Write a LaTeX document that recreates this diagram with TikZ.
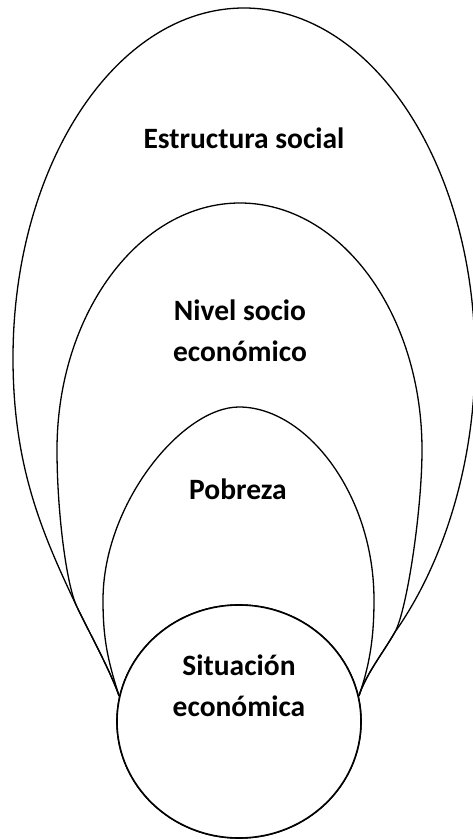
\documentclass[tikz,border=0pt]{standalone}
\usepackage{fontspec}
\setmainfont{Carlito}
\usetikzlibrary{shapes.geometric}
\tikzset{contorno/.style={draw, line width=1.3pt}}
\tikzset{circulo/.style={ellipse, draw, line width=1.6pt, fill=white, inner sep=0pt, minimum width=244pt, minimum height=233pt}}
\tikzset{rotulo/.style={anchor=base, align=center, inner sep=0pt, font=\fontsize{29.5}{41}\selectfont\bfseries}}

\begin{document}
\begin{tikzpicture}[x=1pt, y=1pt]
    \useasboundingbox (0,0) rectangle (473,839);
    \node[circulo] (sit) at (239,117.5) {};
    \coordinate (BL) at (sit.168);
    \coordinate (BR) at (sit.12);
    \coordinate (ML) at (77,232);
    \coordinate (MR) at (395,207);

    % estructura social
    \draw[contorno] (BL) .. controls (109,171) and (90,205) .. (ML)
        .. controls (43,304) and (13,371) .. (13,481)
        .. controls (13,674) and (116,831) .. (244,831)
        .. controls (372,831) and (475,674) .. (475,481)
        .. controls (475,371) and (441,272) .. (MR)
        .. controls (383,186) and (366,165) .. (BR);
    % nivel socio economico
    \draw[contorno] (BL) .. controls (109,171) and (90,205) .. (ML)
        .. controls (66,255) and (57,329) .. (57,389)
        .. controls (57,525) and (139,636) .. (240,636)
        .. controls (341,636) and (422,525) .. (422,389)
        .. controls (422,329) and (407,229) .. (MR)
        .. controls (383,186) and (366,165) .. (BR);
    % pobreza
    \draw[contorno] (BL) .. controls (108,178) and (103,199) .. (103,239)
        .. controls (103,335) and (182,432) .. (239,432)
        .. controls (306,432) and (374,345) .. (374,239)
        .. controls (374,199) and (369,172) .. (BR);
    \node[circulo] at (sit) {};

    \node[rotulo] (es) at (244,690) {Estructura social};
    \node[rotulo] (nse) at (240,477) {Nivel socio\\económico};
    \node[rotulo] (pob) at (238,339) {Pobreza};
    \node[rotulo] (se) at (239,122) {Situación\\económica};
\end{tikzpicture}
\end{document}
